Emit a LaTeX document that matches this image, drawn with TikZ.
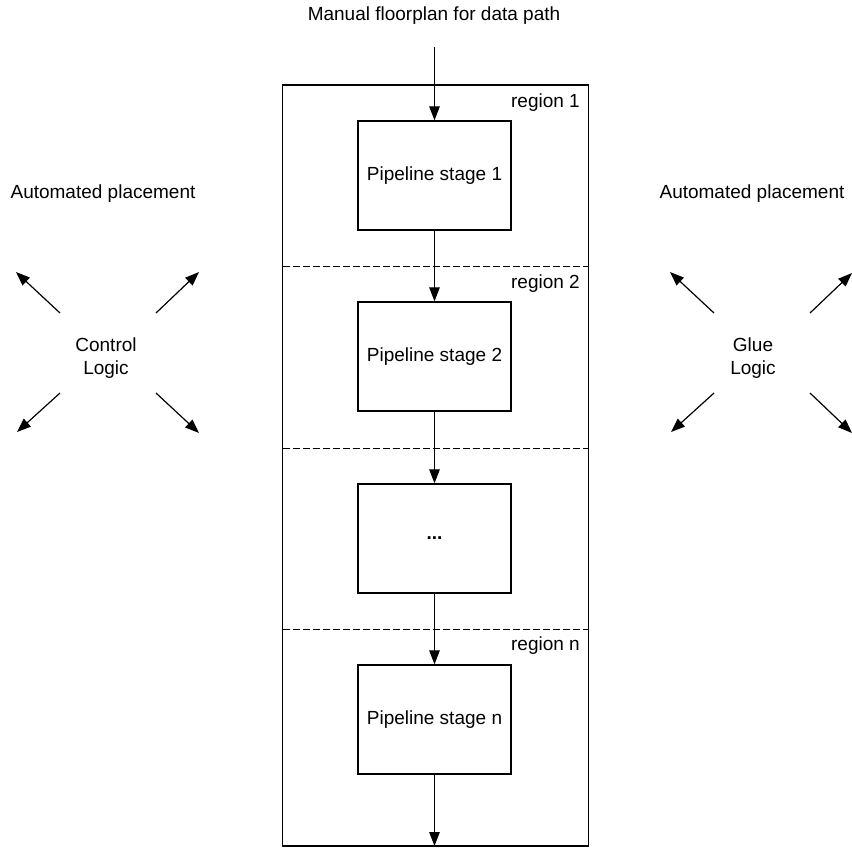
\documentclass[tikz,border=0pt]{standalone}
\usepackage{fontspec}
\setmainfont{Liberation Sans}
\usetikzlibrary{arrows.meta}
\begin{document}
\begin{tikzpicture}[x=1pt,y=-1pt,
  every node/.style={font=\fontsize{19}{23}\selectfont},
  stagebox/.style={draw,line width=1.3pt,minimum width=153pt,minimum height=109pt,inner sep=0pt},
  arr/.style={line width=1.2pt,-{Triangle[length=14pt,width=10.5pt]}},
  sep/.style={line width=1pt,dash pattern=on 7pt off 3pt},
  lbl/.style={align=center,inner sep=0pt}]
\useasboundingbox (0,0) rectangle (852,847);
\node[draw,line width=1.3pt,minimum width=306pt,minimum height=761pt,inner sep=0pt] (outer) at (435.5,465.5) {};
\node[stagebox] (s1) at (434.5,175.5) {Pipeline stage 1};
\node[stagebox] (s2) at (434.5,356.5) {Pipeline stage 2};
\node[stagebox] (s3) at (434.5,538.5) {\textbf{...}};
\node[stagebox] (s4) at (434.5,719.5) {Pipeline stage n};
\node[lbl] (title) at (434,16) {Manual floorplan for data path};
\coordinate (tin) at (434.5,47);
\coordinate (tout) at (434.5,846);
\draw[arr] (tin) -- (s1.north);
\draw[arr] (s1.south) -- (s2.north);
\draw[arr] (s2.south) -- (s3.north);
\draw[arr] (s3.south) -- (s4.north);
\draw[arr] (s4.south) -- (tout);
\coordinate (d1l) at (282.5,266); \coordinate (d1r) at (588.5,266);
\coordinate (d2l) at (282.5,448); \coordinate (d2r) at (588.5,448);
\coordinate (d3l) at (282.5,629); \coordinate (d3r) at (588.5,629);
\draw[sep] (d1l) -- (d1r);
\draw[sep] (d2l) -- (d2r);
\draw[sep] (d3l) -- (d3r);
\node[lbl,anchor=east] (r1) at (580,103) {region 1};
\node[lbl,anchor=east] (r2) at (580,284) {region 2};
\node[lbl,anchor=east] (rn) at (580,646) {region n};
\node[lbl] (apl) at (103,194) {Automated placement};
\node[lbl] (apr) at (752,194) {Automated placement};
\node[lbl] (cl) at (106,358) {Control\\Logic};
\node[lbl] (gl) at (753,358) {Glue\\Logic};
% control logic arrows
\coordinate (c1a) at (60,313); \coordinate (c1b) at (16,272);
\coordinate (c2a) at (156,313); \coordinate (c2b) at (199,272);
\coordinate (c3a) at (60,393); \coordinate (c3b) at (17,432);
\coordinate (c4a) at (156,393); \coordinate (c4b) at (199,433);
\draw[arr] (c1a) -- (c1b);
\draw[arr] (c2a) -- (c2b);
\draw[arr] (c3a) -- (c3b);
\draw[arr] (c4a) -- (c4b);
% glue logic arrows
\coordinate (g1a) at (714,313); \coordinate (g1b) at (670,272);
\coordinate (g2a) at (810,313); \coordinate (g2b) at (852,273);
\coordinate (g3a) at (714,393); \coordinate (g3b) at (671,432);
\coordinate (g4a) at (810,393); \coordinate (g4b) at (852,433);
\draw[arr] (g1a) -- (g1b);
\draw[arr] (g2a) -- (g2b);
\draw[arr] (g3a) -- (g3b);
\draw[arr] (g4a) -- (g4b);
\end{tikzpicture}
\end{document}
